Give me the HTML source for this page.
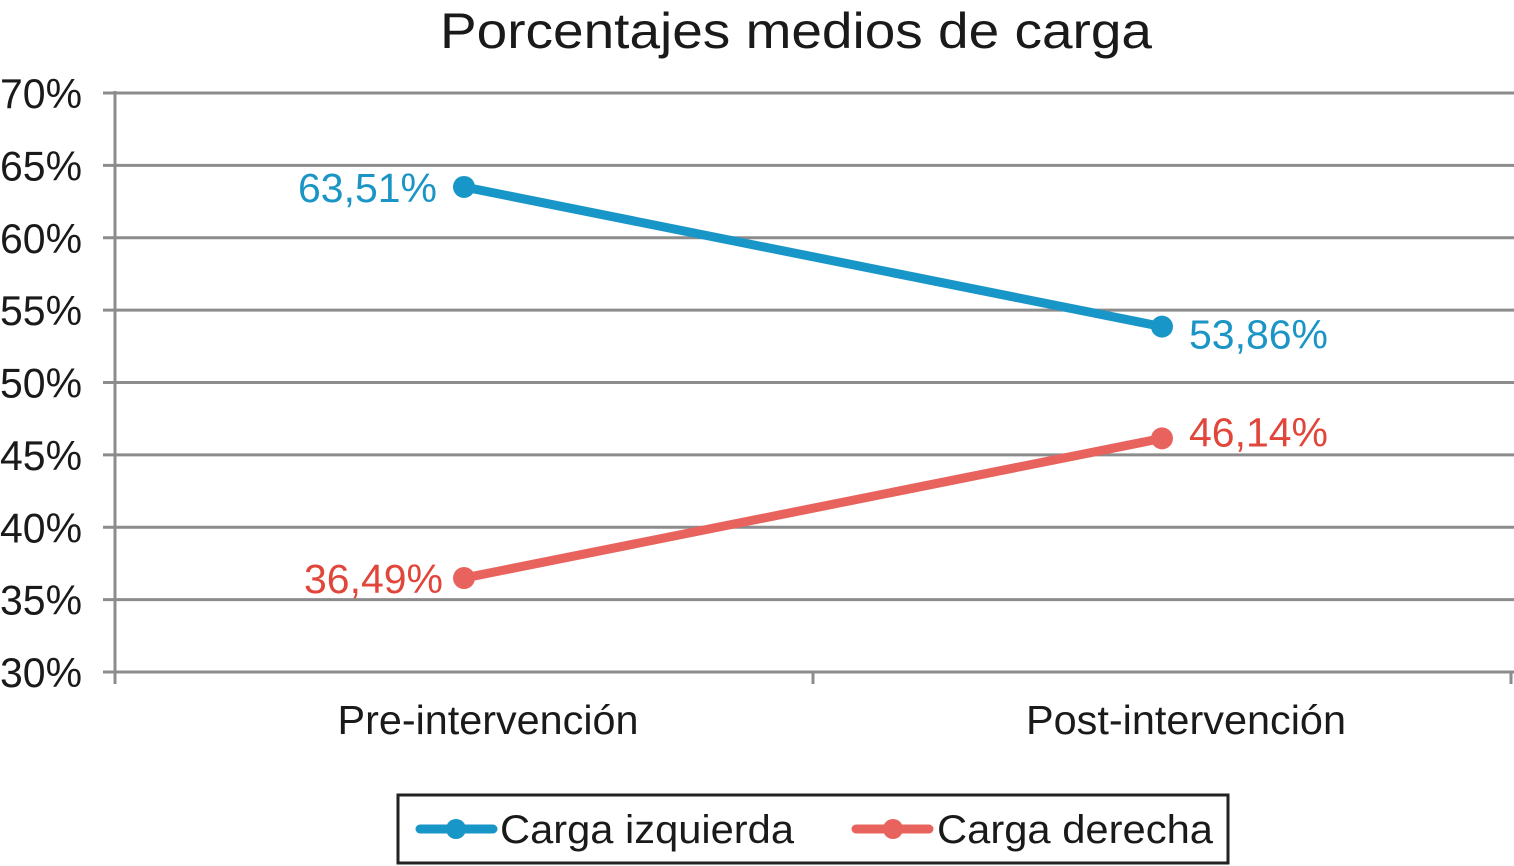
<!DOCTYPE html>
<html><head><meta charset="utf-8"><style>
html,body{margin:0;padding:0;background:#fff;}
svg{display:block;font-family:"Liberation Sans",Arial,sans-serif;}
</style></head><body>
<svg id="chart" width="1514" height="866" viewBox="0 0 1514 866" xmlns="http://www.w3.org/2000/svg">
<text x="796" y="48" font-size="50" text-anchor="middle" fill="#1a1a1a" textLength="712" lengthAdjust="spacingAndGlyphs">Porcentajes medios de carga</text>
<g id="grid"></g>
<g id="yticks"></g>
<g id="xaxis"></g>
<g id="series"></g>
<g>
<rect x="398" y="795" width="830" height="68" fill="#fff" stroke="#222" stroke-width="3"/>
<g>
<line x1="420" y1="829" x2="493" y2="829" stroke="#1996c8" stroke-width="9" stroke-linecap="round"/>
<circle cx="456" cy="829" r="10" fill="#1996c8"/>
<text x="500" y="843" font-size="40" fill="#1a1a1a" textLength="294" lengthAdjust="spacingAndGlyphs">Carga izquierda</text>
</g>
<g>
<line x1="856" y1="829" x2="929" y2="829" stroke="#e9635e" stroke-width="9" stroke-linecap="round"/>
<circle cx="893" cy="829" r="10" fill="#e9635e"/>
<text x="937" y="843" font-size="40" fill="#1a1a1a" textLength="276" lengthAdjust="spacingAndGlyphs">Carga derecha</text>
</g>
</g>
</svg>
<script>
const categories = ["Pre-intervención", "Post-intervención"];
const izquierda = [63.51, 53.86];
const derecha = [36.49, 46.14];
const izqLabels = ["63,51%", "53,86%"];
const derLabels = ["36,49%", "46,14%"];
const yTicks = [30, 35, 40, 45, 50, 55, 60, 65, 70];

const NS = "http://www.w3.org/2000/svg";
const X0 = 115, X1 = 1511, Y0 = 672, Y1 = 93, YMIN = 30, YMAX = 70;
const y = v => Y0 - (v - YMIN) / (YMAX - YMIN) * (Y0 - Y1);
const band = (X1 - X0) / categories.length;
const x = i => X0 + band * (i + 0.5);
function mk(tag, attrs, parent) {
  const e = document.createElementNS(NS, tag);
  for (const k in attrs) e.setAttribute(k, attrs[k]);
  parent.appendChild(e);
  return e;
}
const grid = document.getElementById('grid');
const yt = document.getElementById('yticks');
yTicks.forEach(t => {
  const l = mk('line', {x1: 103, x2: X1 + 3, y1: y(t), y2: y(t), stroke: '#8c8c8c', 'stroke-width': 3}, grid);
  
  
  const tx = mk('text', {x: 82, y: y(t) + 15, 'font-size': 42, 'text-anchor': 'end', fill: '#1a1a1a', textLength: 82, lengthAdjust: 'spacingAndGlyphs'}, yt);
  tx.textContent = t + '%';
  
  
});
const xa = document.getElementById('xaxis');
const ax = mk('line', {x1: X0, x2: X0, y1: Y1 - 2, y2: Y0 + 12, stroke: '#8c8c8c', 'stroke-width': 3}, xa);


for (let i = 0; i <= categories.length; i++) {
  const tk = mk('line', {x1: X0 + band * i, x2: X0 + band * i, y1: Y0, y2: Y0 + 12, stroke: '#8c8c8c', 'stroke-width': 3}, xa);
  
  
}
categories.forEach((c, i) => {
  const t = mk('text', {x: x(i) + 24, y: 734, 'font-size': 41, 'text-anchor': 'middle', fill: '#1a1a1a', textLength: 301 + i * 19, lengthAdjust: 'spacingAndGlyphs'}, xa);
  t.textContent = c;
  
  
});
const sg = document.getElementById('series');
function series(vals, labels, color, labelColor, name, offsets) {
  const pts = vals.map((v, i) => x(i) + ',' + y(v)).join(' ');
  const pl = mk('polyline', {points: pts, fill: 'none', stroke: color, 'stroke-width': 9, 'stroke-linecap': 'round'}, sg);
  
  
  vals.forEach((v, i) => {
    const c = mk('circle', {cx: x(i), cy: y(v), r: 11, fill: color}, sg);
    
    
    const o = offsets[i];
    const t = mk('text', {x: x(i) + o[0], y: y(v) + o[1], 'font-size': 41, 'text-anchor': o[2], fill: labelColor, textLength: 139, lengthAdjust: 'spacingAndGlyphs'}, sg);
    t.textContent = labels[i];
    
    
  });
}
series(izquierda, izqLabels, '#1996c8', '#1b95c6', 'carga-izquierda', [[-27, 15, 'end'], [27, 22, 'start']]);
series(derecha, derLabels, '#e9635e', '#e0463a', 'carga-derecha', [[-21, 15, 'end'], [27, 8, 'start']]);
</script>
</body></html>
